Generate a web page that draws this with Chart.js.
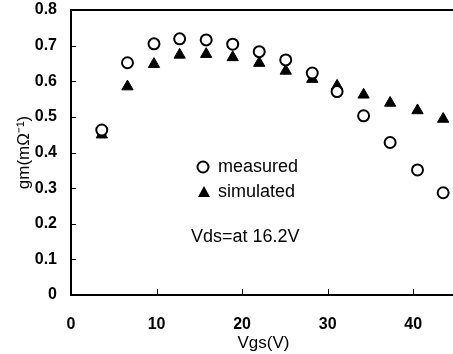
<!DOCTYPE html>
<html><head><meta charset="utf-8">
<script src="https://cdn.jsdelivr.net/npm/chart.js@4/dist/chart.umd.min.js"></script>
<style>html,body{margin:0;padding:0;background:#fff;overflow:hidden;width:453px;height:354px}#wrap{position:relative;width:468px;height:354px}#frame{position:absolute;border-top:2px solid #000;border-left:2px solid #000;border-bottom:2px solid #000;pointer-events:none;box-sizing:border-box}</style>
</head><body><div id="wrap"><canvas id="c" width="468" height="354"></canvas><div id="frame"></div></div>
<script>
const vgs = [3.6, 6.6, 9.7, 12.7, 15.8, 18.9, 22.0, 25.1, 28.2, 31.1, 34.2, 37.3, 40.5, 43.5];
const measured = [0.463, 0.652, 0.705, 0.719, 0.716, 0.704, 0.683, 0.660, 0.623, 0.571, 0.503, 0.428, 0.351, 0.287];
const simulated = [0.450, 0.585, 0.648, 0.674, 0.676, 0.667, 0.651, 0.629, 0.606, 0.587, 0.562, 0.539, 0.518, 0.494];
const seriesNames = ["measured", "simulated"];
const note = "Vds=at 16.2V";
const xTitle = "Vgs(V)";
const yTitle = "gm(mΩ⁻¹)";

const FONT = "'Liberation Sans', Arial, sans-serif";
const decor = {
  id: 'decor',
  afterDraw(chart) {
    const ctx = chart.ctx;
    const xs = chart.scales.x, ys = chart.scales.y;
    const L = xs.left, R = xs.right, T = ys.top, B = ys.bottom;
    const f = document.getElementById('frame');
    f.style.left = (L - 1) + 'px';
    f.style.top = (T - 1) + 'px';
    f.style.width = (R - L + 1) + 'px';
    f.style.height = (B - T + 2) + 'px';
    ctx.save();
    ctx.fillStyle = '#000';
    ctx.strokeStyle = '#000';
    // inner ticks
    ctx.lineWidth = 1;
    ctx.beginPath();
    xs.ticks.forEach(t => { if (t.value > 0 && t.value % 10 === 0) { const p = Math.round(xs.getPixelForValue(t.value)) + 0.5; ctx.moveTo(p, B - 1); ctx.lineTo(p, B - 6); } });
    ys.ticks.forEach(t => { if (t.value > 0.05 && t.value < 0.75) { const p = Math.round(ys.getPixelForValue(t.value)) + 0.5; ctx.moveTo(L + 1, p); ctx.lineTo(L + 5, p); } });
    ctx.stroke();
    // legend
    ctx.font = '18px ' + FONT;
    ctx.textBaseline = 'middle';
    ctx.textAlign = 'left';
    ctx.lineWidth = 2;
    ctx.beginPath(); ctx.arc(203, 167, 5.5, 0, Math.PI * 2); ctx.stroke();
    ctx.fillText(seriesNames[0], 218, 167);
    ctx.beginPath(); ctx.moveTo(204, 186); ctx.lineTo(210, 197); ctx.lineTo(198, 197); ctx.closePath(); ctx.fill();
    ctx.fillText(seriesNames[1], 218, 192);
    ctx.fillText(note, 191, 237);
    ctx.restore();
  }
};

new Chart(document.getElementById('c'), {
  type: 'scatter',
  data: {
    datasets: [
      { label: seriesNames[0], data: vgs.map((x, i) => ({ x, y: measured[i] })), pointStyle: 'circle', pointRadius: 5.5, pointHoverRadius: 5.5, borderColor: '#000', backgroundColor: '#fff', borderWidth: 2, clip: false },
      { label: seriesNames[1], data: vgs.map((x, i) => ({ x, y: simulated[i] })), pointStyle: 'triangle', pointRadius: 6.5, pointHoverRadius: 6.5, borderColor: '#000', backgroundColor: '#000', borderWidth: 1, clip: false }
    ]
  },
  options: {
    responsive: false, animation: false, devicePixelRatio: 1,
    layout: { padding: { top: 10, right: 12, left: 0, bottom: 0 } },
    plugins: { legend: { display: false }, tooltip: { enabled: false } },
    scales: {
      x: {
        type: 'linear', min: 0, max: 45,
        grid: { display: false }, border: { display: false },
        afterFit(s) { s.height = 59; s.paddingLeft = 0; s.paddingRight = 0; },
        ticks: { stepSize: 10, color: '#000', font: { family: FONT, size: 16, weight: 'bold' }, padding: 12, callback: v => (v % 10 === 0 && v <= 40) ? v : '' },
        title: { display: true, text: xTitle, color: '#000', font: { family: FONT, size: 17 }, padding: { top: -16, bottom: 0 } }
      },
      y: {
        min: 0, max: 0.8,
        grid: { display: false }, border: { display: false },
        afterFit(s) { s.width = 71; s.paddingTop = 0; s.paddingBottom = 0; },
        ticks: { stepSize: 0.1, color: '#000', font: { family: FONT, size: 16, weight: 'bold' }, padding: 6, callback: v => v === 0 ? '0' : v.toFixed(1) },
        title: { display: true, text: yTitle, color: '#000', font: { family: FONT, size: 17 }, padding: { top: 14, bottom: 0 } }
      }
    }
  },
  plugins: [decor]
});
</script></body></html>
